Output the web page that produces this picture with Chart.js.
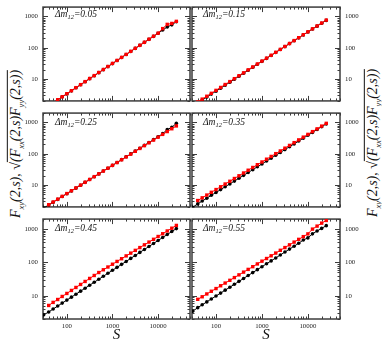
<!DOCTYPE html>
<html>
<head>
<meta charset="utf-8">
<script src="https://cdn.jsdelivr.net/npm/chart.js@4.4.1/dist/chart.umd.min.js"></script>
<style>
  html, body { margin: 0; padding: 0; background: #fff; }
  body { position: relative; width: 382px; height: 341px; overflow: hidden; font-family: "Liberation Serif", serif; }
  canvas { position: absolute; }
  .tag { position: absolute; font-style: italic; font-size: 9.5px; color: #111; white-space: nowrap; line-height: 1; }
  .tag sub { font-size: 6.5px; vertical-align: -2px; }
  .ytitle { position: absolute; width: 0; height: 0; }
  .ytitle span { position: absolute; left: 0; top: 0; transform: translate(-50%, -50%) rotate(-90deg); white-space: nowrap; font-style: italic; font-size: 14px; color: #111; line-height: 1.1; }
  .ytitle sub { font-size: 8.5px; vertical-align: -4px; }
  .root { border-top: 1px solid #111; }
</style>
</head>
<body>
<div class="ytitle" style="left:17px; top:144px"><span><i>F</i><sub>xy</sub>(2,<i>s</i>), √<span class="root" style="position:static;transform:none">(<i>F</i><sub>xx</sub>(2,<i>s</i>)<i>F</i><sub>yy</sub>(2,<i>s</i>))</span></span></div>
<div class="ytitle" style="left:374px; top:143px"><span><i>F</i><sub>xy</sub>(2,<i>s</i>), √<span class="root" style="position:static;transform:none">(<i>F</i><sub>xx</sub>(2,<i>s</i>)<i>F</i><sub>yy</sub>(2,<i>s</i>))</span></span></div>
<script>
const sValues = [31, 40, 50, 63, 79, 100, 126, 158, 200, 251, 316, 398, 501, 631, 794, 1000, 1259, 1585, 1995, 2512, 3162, 3981, 5012, 6310, 7943, 10000, 12589, 15849, 19953, 25119];

const red05 = [null, 1.41, 1.75, 2.18, 2.72, 3.40, 4.25, 5.31, 6.63, 8.29, 10.4, 12.9, 16.2, 20.2, 25.2, 31.6, 39.4, 49.3, 61.5, 76.9, 96.1, 120, 150, 188, 234, 293, 410, 560, 600, 700];
const black05 = [1.1, 1.38, 1.72, 2.15, 2.7, 3.35, 4.2, 5.25, 6.6, 8.2, 10.3, 12.8, 16.0, 20.0, 25.0, 31.2, 39.0, 48.8, 61.0, 76.0, 95.5, 119, 149, 186, 232, 290, 370, 460, 540, 680];

const red15 = [null, 1.85, 2.28, 2.82, 3.50, 4.35, 5.39, 6.69, 8.30, 10.3, 12.8, 15.8, 19.7, 24.4, 30.3, 37.5, 46.5, 57.7, 71.6, 88.9, 110, 137, 170, 210, 261, 324, 402, 498, 618, 767];
const black15 = [1.4, 1.72, 2.12, 2.65, 3.3, 4.1, 5.1, 6.35, 7.9, 9.85, 12.3, 15.3, 19.1, 23.8, 29.6, 36.8, 45.8, 56.9, 70.8, 88, 109, 136, 168, 208, 258, 320, 398, 492, 610, 750];

const red25 = [null, 2.35, 2.87, 3.53, 4.35, 5.35, 6.58, 8.10, 9.96, 12.3, 15.1, 18.6, 22.8, 28.1, 34.6, 42.6, 52.4, 64.4, 79.3, 97.5, 120, 148, 182, 224, 275, 339, 417, 513, 631, 777];
const black25 = [1.85, 2.3, 2.82, 3.48, 4.3, 5.3, 6.5, 8.0, 9.9, 12.2, 15.0, 18.5, 22.7, 28.0, 34.5, 42.5, 52.5, 64.8, 80, 99, 122, 150, 186, 230, 283, 350, 440, 590, 700, 940];

const red35 = [null, 3.20, 3.91, 4.79, 5.87, 7.18, 8.81, 10.8, 13.2, 16.2, 19.8, 24.3, 29.8, 36.5, 44.7, 54.7, 67.1, 82.2, 101, 123, 151, 185, 227, 278, 340, 417, 511, 626, 767, 940];
const black35 = [1.95, 2.5, 3.08, 3.8, 4.7, 5.8, 7.15, 8.8, 10.9, 13.4, 16.5, 20.4, 25.1, 31, 38.3, 47.3, 58.5, 72.3, 89.5, 110, 136, 168, 207, 255, 315, 390, 482, 595, 735, 900];

const red45 = [null, 5.1, 6.3, 7.7, 9.5, 11.7, 14.4, 17.7, 21.8, 26.8, 33.0, 40.5, 49.7, 60.1, 72.8, 88.3, 107, 129, 157, 190, 230, 279, 337, 408, 494, 600, 726, 879, 1064, 1290];
const black45 = [2.66, 3.25, 3.98, 4.89, 6.00, 7.38, 9.06, 11.1, 13.7, 16.8, 20.7, 25.4, 31.2, 38.4, 47.1, 57.9, 71.1, 87.5, 107, 132, 162, 200, 245, 301, 370, 455, 558, 687, 844, 1037];

const red55 = [null, 7.8, 9.3, 11.3, 13.6, 16.4, 19.9, 24.0, 29.0, 35.0, 42.3, 51.1, 61.7, 74.5, 90.0, 109, 131, 158, 191, 231, 279, 337, 407, 492, 594, 718, 1000, 1230, 1510, 1820];
const black55 = [3.40, 4.38, 5.33, 6.53, 8.00, 9.80, 12.0, 14.7, 18.0, 22.0, 27.0, 33.0, 40.5, 49.5, 60.7, 74.3, 91.0, 111, 136, 167, 205, 251, 307, 376, 470, 545, 720, 880, 1050, 1270];

const panelLabels = ["0.05", "0.15", "0.25", "0.35", "0.45", "0.55"];
const redSeries = [red05, red15, red25, red35, red45, red55];
const blackSeries = [black05, black15, black25, black35, black45, black55];
const xTicks = [100, 1000, 10000];
const yTicks = [10, 100, 1000];

const pts = arr => sValues.map((s, i) => ({ x: s, y: arr[i] }));

// frame + inward log ticks on all four sides
const frameTicks = {
  id: "frameTicks",
  beforeDatasetsDraw(chart) {
    const { ctx, chartArea: a, scales: { x, y } } = chart;
    ctx.save();
    ctx.strokeStyle = "#3c3c3c";
    ctx.lineWidth = 1;
    ctx.beginPath();
    for (let k = 1; k <= 4; k++) {
      for (let m = 1; m <= 9; m++) {
        const v = m * Math.pow(10, k);
        if (v < x.min || v > x.max) continue;
        const px = Math.round(x.getPixelForValue(v)) + 0.5;
        const len = m === 1 ? 5 : 2.5;
        ctx.moveTo(px, a.bottom); ctx.lineTo(px, a.bottom - len);
        ctx.moveTo(px, a.top); ctx.lineTo(px, a.top + len);
      }
    }
    for (let k = 0; k <= 3; k++) {
      for (let m = 1; m <= 9; m++) {
        const v = m * Math.pow(10, k);
        if (v < y.min || v > y.max) continue;
        const py = Math.round(y.getPixelForValue(v)) + 0.5;
        const len = m === 1 ? 5 : 2.5;
        ctx.moveTo(a.left, py); ctx.lineTo(a.left + len, py);
        ctx.moveTo(a.right, py); ctx.lineTo(a.right - len, py);
      }
    }
    ctx.stroke();
    ctx.lineWidth = 1.5;
    ctx.strokeRect(a.left, a.top, a.right - a.left, a.bottom - a.top);
    ctx.restore();
  }
};

const tickFont = { family: "Liberation Serif", size: 6.8 };

for (let i = 0; i < 6; i++) {
  const col = i % 2, row = Math.floor(i / 2);
  const bottomRow = row === 2;
  const rowTop = 1 + 106 * row;

  const canvas = document.createElement("canvas");
  canvas.width = 194;
  canvas.height = bottomRow ? 134 : 112;
  canvas.style.left = (col === 0 ? 0 : 188) + "px";
  canvas.style.top = (rowTop - 3) + "px";
  document.body.appendChild(canvas);

  const tag = document.createElement("div");
  tag.className = "tag";
  tag.style.left = (col === 0 ? 55 : 203) + "px";
  tag.style.top = (rowTop + (row === 0 ? 9 : 11)) + "px";
  tag.innerHTML = "Δ<i>m</i><sub>12</sub>=" + panelLabels[i];
  document.body.appendChild(tag);

  new Chart(canvas, {
    type: "line",
    data: {
      datasets: [
        { data: pts(redSeries[i]), borderColor: "#ff0000", backgroundColor: "#ff0000", pointStyle: "rect",
          pointRadius: 2.4, pointBorderWidth: 0, borderWidth: 1, clip: 0 },
        { data: pts(blackSeries[i]), borderColor: "#000", backgroundColor: "#000", pointStyle: "circle",
          pointRadius: 1.8, pointBorderWidth: 0, borderWidth: 1, clip: 0 }
      ]
    },
    options: {
      responsive: false,
      animation: false,
      devicePixelRatio: 1,
      layout: { padding: { left: col ? 3 : 0, right: col ? 0 : 3, top: 3, bottom: bottomRow ? 0 : 3 } },
      plugins: { legend: { display: false }, tooltip: { enabled: false } },
      scales: {
        x: {
          type: "logarithmic", min: 30, max: 50000,
          grid: { display: false, drawTicks: false },
          border: { display: false },
          afterBuildTicks: s => { s.ticks = xTicks.map(v => ({ value: v })); },
          afterFit: s => { s.height = bottomRow ? 25 : 0; },
          ticks: { display: bottomRow, autoSkip: false, maxRotation: 0, padding: 3, color: "#222",
                   font: tickFont, callback: v => String(v) },
          title: { display: bottomRow, text: "S", color: "#111", padding: 0,
                   font: { family: "Liberation Serif", size: 15, style: "italic" } }
        },
        y: {
          type: "logarithmic", min: 2, max: 2000,
          position: col ? "right" : "left",
          grid: { display: false, drawTicks: false },
          border: { display: false },
          afterBuildTicks: s => { s.ticks = yTicks.map(v => ({ value: v })); },
          afterFit: s => { s.width = col ? 42 : 43; },
          ticks: { autoSkip: false, padding: 5, color: "#222", font: tickFont, callback: v => String(v) }
        }
      }
    },
    plugins: [frameTicks]
  });
}
</script>
</body>
</html>
